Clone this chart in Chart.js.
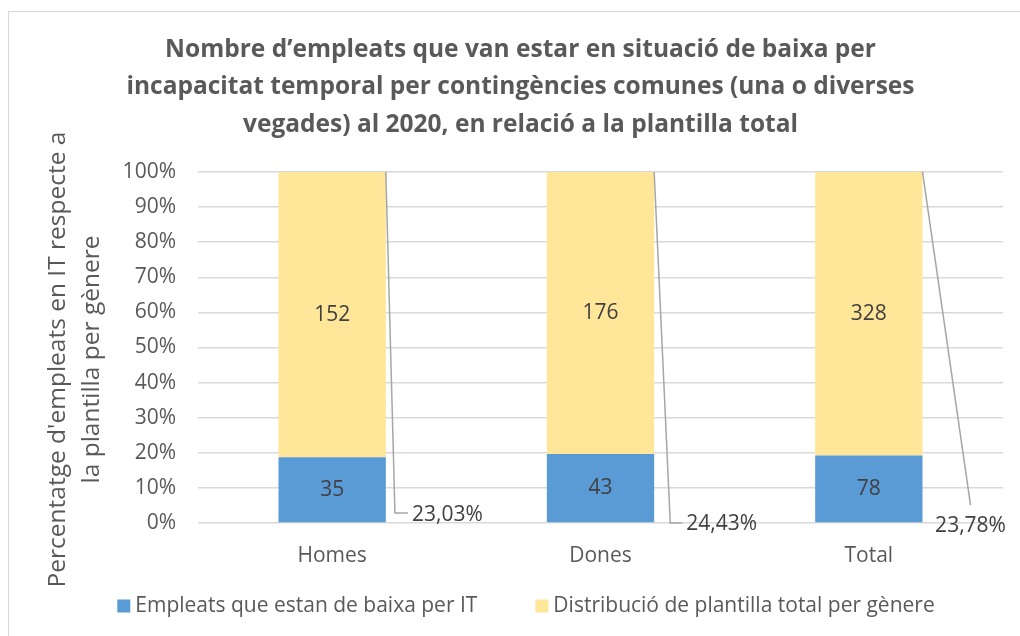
<!DOCTYPE html>
<html>
<head>
<meta charset="utf-8">
<script src="https://cdn.jsdelivr.net/npm/chart.js@4.4.1/dist/chart.umd.min.js"></script>
<style>
  html, body { margin: 0; padding: 0; background: #fff; }
  #wrap { position: relative; width: 1020px; height: 636px; overflow: hidden; }
  #frame { position: absolute; left: 8px; top: 11px; width: 1100px; height: 700px; border: 1.5px solid #d9d9d9; box-sizing: border-box; }
  canvas { position: absolute; left: 0; top: 0; }
</style>
</head>
<body>
<div id="wrap">
  <div id="frame"></div>
  <canvas id="myChart" width="1020" height="636"></canvas>
</div>
<script>
// chart data
const categories = ['Homes', 'Dones', 'Total']
const baixaIT = [35, 43, 78]
const plantilla = [152, 176, 328]
const seriesNames = ['Empleats que estan de baixa per IT', 'Distribució de plantilla total per gènere']
const yTicks = [0, 10, 20, 30, 40, 50, 60, 70, 80, 90, 100]

const titleLines = [
  'Nombre d\u2019empleats que van estar en situació de baixa per',
  'incapacitat temporal per contingències comunes (una o diverses',
  'vegades) al 2020, en relació a la plantilla total'
]
const yTitleLines = ['Percentatge d\'empleats en IT respecte a', 'la plantilla per gènere']

// stacked to 100%
const baixaPct = baixaIT.map((v, i) => v / (v + plantilla[i]) * 100)
const plantillaPct = plantilla.map((v, i) => v / (baixaIT[i] + v) * 100)
const ratioLabels = baixaIT.map((v, i) => (v / plantilla[i] * 100).toFixed(2).replace('.', ',') + '%')

// where each ratio callout ends (category offset, percent value)
const calloutPlacement = [
  { dx: 0.234, y: 2.85, hook: 13, gap: 4, shiftY: 2 },
  { dx: 0.26, y: 0, hook: 12, gap: 4, shiftY: 1 },
  { dx: 0.379, y: 5.1, hook: 0, below: 21 }
]

const counts = [baixaIT, plantilla]
const textColor = '#595959'

const barLabels = {
  id: 'barLabels',
  afterDatasetsDraw(chart) {
    const ctx = chart.ctx
    const xs = chart.scales.x, ys = chart.scales.y
    ctx.save()
    ctx.font = '21px "Open Sans"'
    ctx.fillStyle = '#404040'
    ctx.textAlign = 'center'
    ctx.textBaseline = 'middle'
    chart.data.datasets.forEach((ds, i) => {
      chart.getDatasetMeta(i).data.forEach((bar, j) => {
        ctx.fillText(counts[i][j], bar.x, (bar.y + bar.base) / 2)
      })
    })
    // leader lines + ratio labels
    ctx.strokeStyle = '#a6a6a6'
    ctx.lineWidth = 1.5
    chart.getDatasetMeta(1).data.forEach((bar, j) => {
      const c = calloutPlacement[j]
      const sx = bar.x + bar.width / 2, sy = bar.y
      const ex = xs.getPixelForValue(j + c.dx), ey = ys.getPixelForValue(c.y)
      ctx.beginPath()
      ctx.moveTo(sx, sy)
      ctx.lineTo(ex, ey)
      if (c.hook) ctx.lineTo(ex + c.hook, ey)
      ctx.stroke()
      if (c.hook) {
        ctx.textAlign = 'left'
        ctx.fillText(ratioLabels[j], ex + c.hook + c.gap, ey + c.shiftY)
      } else {
        ctx.textAlign = 'center'
        ctx.fillText(ratioLabels[j], ex, ey + c.below)
      }
    })
    ctx.restore()
  }
}

// y axis title and legend drawn by hand (Excel spacing)
const extras = {
  id: 'extras',
  afterLayout(chart) {
    chart.titleBlock.left += 18
  },
  afterDraw(chart) {
    const ctx = chart.ctx
    const a = chart.chartArea
    ctx.save()
    ctx.translate(58, (a.top + a.bottom) / 2 + 12)
    ctx.rotate(-Math.PI / 2)
    ctx.font = '24.5px "Open Sans"'
    ctx.fillStyle = textColor
    ctx.textAlign = 'center'
    ctx.textBaseline = 'middle'
    yTitleLines.forEach((t, i) => ctx.fillText(t, 0, i * 34))
    ctx.restore()

    // legend
    ctx.save()
    ctx.font = '21px "Open Sans"'
    ctx.textBaseline = 'middle'
    ctx.textAlign = 'left'
    const box = 13, gap = 5, itemGap = 58
    const items = chart.data.datasets.map(ds => ({ text: ds.label, color: ds.backgroundColor, w: ctx.measureText(ds.label).width }))
    const total = items.reduce((s, it) => s + box + gap + it.w, 0) + itemGap * (items.length - 1)
    let x = chart.width / 2 + 16 - total / 2
    const y = 606
    items.forEach(it => {
      ctx.fillStyle = it.color
      ctx.fillRect(x, y - box / 2, box, box)
      ctx.fillStyle = textColor
      ctx.fillText(it.text, x + box + gap, y)
      x += box + gap + it.w + itemGap
    })
    ctx.restore()
  }
}

function draw() {
  Chart.defaults.font.family = '"Open Sans", sans-serif'
  Chart.defaults.color = textColor

  new Chart(document.getElementById('myChart'), {
    type: 'bar',
    data: {
      labels: categories,
      datasets: [
        { label: seriesNames[0], data: baixaPct, backgroundColor: '#5B9BD5', barPercentage: 0.4, categoryPercentage: 1 },
        { label: seriesNames[1], data: plantillaPct, backgroundColor: '#FFE699', barPercentage: 0.4, categoryPercentage: 1 }
      ]
    },
    options: {
      responsive: false,
      animation: false,
      layout: { padding: { left: 20, right: 17, top: 0, bottom: 63 } },
      plugins: {
        title: {
          display: true,
          text: titleLines,
          color: textColor,
          font: { size: 24.5, weight: 'bold', lineHeight: 1.53 },
          padding: { top: 31, bottom: 28.5 }
        },
        legend: { display: false },
        tooltip: { enabled: false }
      },
      scales: {
        x: {
          stacked: true,
          grid: { display: false },
          border: { display: false },
          ticks: { color: textColor, font: { size: 21 }, padding: 12 },
          afterFit(s) { s.height = 50 }
        },
        y: {
          stacked: true,
          min: 0,
          max: 100,
          afterBuildTicks(s) { s.ticks = yTicks.map(v => ({ value: v })) },
          ticks: { color: textColor, font: { size: 21 }, padding: 22, callback: v => v + '%' },
          grid: { color: '#d9d9d9', lineWidth: 1.5, drawTicks: false },
          border: { display: false },
          afterFit(s) { s.width = 178 }
        }
      }
    },
    plugins: [barLabels, extras]
  })
}

Promise.all([
  document.fonts.load('21px "Open Sans"'),
  document.fonts.load('bold 24px "Open Sans"')
]).then(draw, draw)
</script>
</body>
</html>
